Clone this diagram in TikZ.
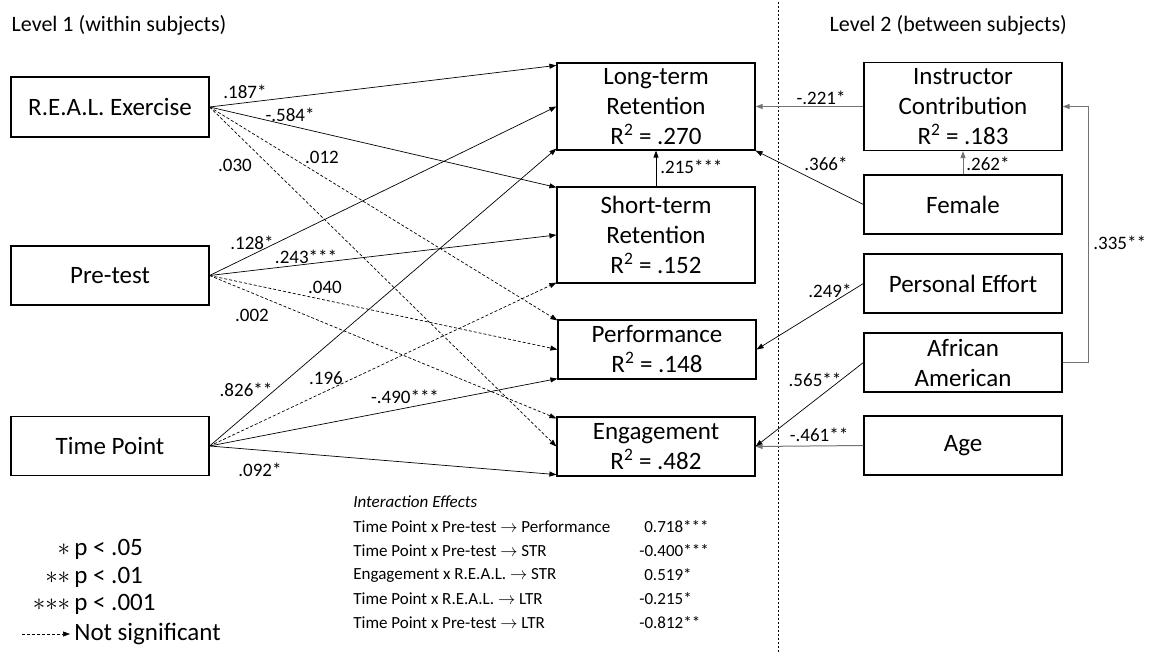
\documentclass[tikz,border=0pt]{standalone}
\usepackage{fontspec}
\setmainfont{Carlito}
\usetikzlibrary{arrows.meta}
\tikzset{
  box/.style={draw, line width=1.2pt, minimum width=198pt, minimum height=59pt,
    align=center, inner sep=0pt, font=\fontsize{25}{30}\selectfont},
  coef/.style={inner sep=1pt, font=\fontsize{19}{22}\selectfont},
  ns/.style={dash pattern=on 3pt off 2pt},
  grey/.style={draw=black!55, line width=1pt},
  small/.style={anchor=west, inner sep=0pt, font=\fontsize{17}{20}\selectfont},
  legend/.style={anchor=west, inner sep=0pt, font=\fontsize{25}{30}\selectfont}
}
\begin{document}
\begin{tikzpicture}[x=1pt, y=-1pt, line width=0.7pt, >={Triangle[length=7pt,width=5pt]}]
\useasboundingbox (0,0) rectangle (1158,652);
% level titles and divider
\node[anchor=west, font=\fontsize{22}{26}\selectfont] (lev1) at (8,25) {Level 1 (within subjects)};
\node[anchor=west, font=\fontsize{22}{26}\selectfont] (lev2) at (826,25) {Level 2 (between subjects)};
\coordinate (divtop) at (778,2);
\coordinate (divbot) at (778,652);
\draw[dash pattern=on 2pt off 2pt, line width=0.8pt] (divtop) -- (divbot);
% level 1 predictors
\node[box, minimum height=60pt] (real) at (110,107) {R.E.A.L. Exercise};
\node[box] (pre) at (110,275.5) {Pre-test};
\node[box] (time) at (110,446) {Time Point};
% outcomes
\node[box, minimum height=87pt] (ltr) at (656,106.5) {Long-term\\Retention\\R\textsuperscript{2} = .270};
\node[box, minimum height=96pt] (str) at (656,235) {Short-term\\Retention\\R\textsuperscript{2} = .152};
\node[box] (perf) at (657,349.5) {Performance\\R\textsuperscript{2} = .148};
\node[box] (eng) at (656,446.5) {Engagement\\R\textsuperscript{2} = .482};
% level 2 predictors
\node[box, minimum height=88pt] (instr) at (963,106.5) {Instructor\\Contribution\\R\textsuperscript{2} = .183};
\node[box] (fem) at (963,204.5) {Female};
\node[box] (eff) at (963,283.5) {Personal Effort};
\node[box] (afr) at (963,362.5) {African\\American};
\node[box] (age) at (963,445.5) {Age};
% paths from R.E.A.L.
\draw[->] (real.east) -- ([yshift=-3pt]ltr.north west);
\draw[->] (real.east) -- ([yshift=-1pt]str.north west);
\draw[->, ns] (real.east) -- ([yshift=-1pt]perf.north west);
\draw[->, ns] (real.east) -- (eng.west);
% paths from pre-test
\draw[->] (pre.east) -- (ltr.west);
\draw[->] (pre.east) -- (str.west);
\draw[->, ns] (pre.east) -- (perf.west);
\draw[->, ns] (pre.east) -- ([yshift=-2pt]eng.north west);
% paths from time point
\draw[->] (time.east) -- ([yshift=2pt]ltr.south west);
\draw[->, ns] (time.east) -- ([yshift=1pt]str.south west);
\draw[->] (time.east) -- ([yshift=1pt]perf.south west);
\draw[->] (time.east) -- ([yshift=2pt]eng.south west);
\draw[->] (str.north) -- (ltr.south);
% level 2 paths
\draw[->, grey] (instr.west) -- (ltr.east);
\draw[->] (fem.west) -- (ltr.south east);
\draw[->, grey] (fem.north) -- (instr.south);
\draw[->] (eff.west) -- (perf.east);
\draw[->] (afr.west) -- (eng.east);
\draw[->, grey] (age.west) -- (eng.east);
\draw[->, grey] (afr.east) -- ++(26,0) |- (instr.east);
% coefficients
\node[coef] (c187) at (245,92) {.187*};
\node[coef] (c584) at (290,115) {-.584*};
\node[coef] (c030) at (235,165) {.030};
\node[coef] (c012) at (322,157) {.012};
\node[coef] (c128) at (252,243) {.128*};
\node[coef] (c243) at (306,257) {.243***};
\node[coef] (c040) at (325,287) {.040};
\node[coef] (c002) at (252,315) {.002};
\node[coef] (c826) at (246,390) {.826**};
\node[coef] (c196) at (326,378) {.196};
\node[coef] (c490) at (405,397) {-.490***};
\node[coef] (c092) at (260,470) {.092*};
\node[coef, anchor=west] (c215) at (659,167) {.215***};
\node[coef] (c221) at (821,98) {-.221*};
\node[coef] (c366) at (826,164) {.366*};
\node[coef] (c262) at (988,164) {.262*};
\node[coef] (c249) at (830,291) {.249*};
\node[coef] (c565) at (815,380) {.565**};
\node[coef] (c461) at (819,435) {-.461**};
\node[coef, anchor=west] (c335) at (1092,243) {.335**};
% interaction effects
\node[small, font=\fontsize{17}{20}\selectfont\itshape] (intr) at (353,502) {Interaction Effects};
\node[small] (ia) at (353,527) {Time Point x Pre-test $\rightarrow$ Performance};
\node[small] (ib) at (353,551) {Time Point x Pre-test $\rightarrow$ STR};
\node[small] (ic) at (353,575) {Engagement x R.E.A.L. $\rightarrow$ STR};
\node[small] (id) at (353,599) {Time Point x R.E.A.L. $\rightarrow$ LTR};
\node[small] (ie) at (353,623) {Time Point x Pre-test $\rightarrow$ LTR};
\node[small] (va) at (644,527) {0.718***};
\node[small] (vb) at (639,551) {-0.400***};
\node[small] (vc) at (644,575) {0.519*};
\node[small] (vd) at (639,599) {-0.215*};
\node[small] (ve) at (639,623) {-0.812**};
% legend
\node[legend] (p05) at (74,549) {\llap{${\ast}$\,}p < .05};
\node[legend] (p01) at (74,577) {\llap{${\ast}{\ast}$\,}p < .01};
\node[legend] (p001) at (74,604) {\llap{${\ast}{\ast}{\ast}$\,}p < .001};
\coordinate (ns0) at (22,634);
\node[legend] (nsig) at (74,634) {Not significant};
\draw[->, ns] (ns0) -- ([xshift=-4pt]nsig.west);
\end{tikzpicture}
\end{document}
